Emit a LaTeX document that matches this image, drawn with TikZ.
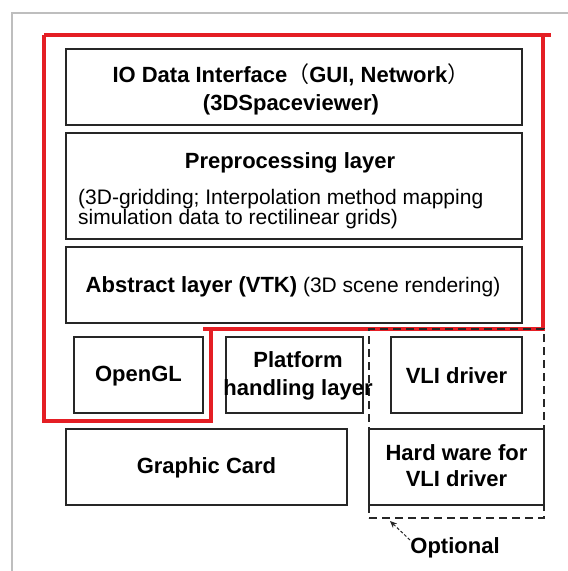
\documentclass[tikz,border=0pt]{standalone}
\usepackage{fontspec}
\setmainfont{Liberation Sans}
\newfontfamily\cjk{Noto Sans CJK SC}
\usetikzlibrary{arrows.meta}
\definecolor{redline}{RGB}{228,30,36}
\definecolor{frame}{RGB}{190,190,190}
\tikzset{
  box/.style={draw=black!85, line width=1.9pt, rectangle, inner sep=0pt},
  ttl/.style={font=\fontsize{22}{28}\selectfont\bfseries, inner sep=0pt, align=center},
  dsc/.style={font=\fontsize{21}{19.5}\selectfont, inner sep=0pt, align=left},
  redpath/.style={draw=redline, line width=3.2pt},
  optbox/.style={draw=black!85, line width=2pt, dash pattern=on 8pt off 5pt, rectangle, inner sep=0pt},
}
\begin{document}
\begin{tikzpicture}[x=1pt,y=-1pt]
\useasboundingbox[fill=white] (0,0) rectangle (568,571);
% grey frame
\draw[frame, line width=1.8pt] (12,571) -- (12,13) -- (568,13);
% red outline
\draw[redpath] (44,35) -- (551,35);
\draw[redpath, line join=miter] (543,35) -- (543,329) -- (203,329);
\draw[redpath, line join=miter] (211,329) -- (211,421) -- (44,421) -- (44,35);
% optional dashed region
\node[optbox, minimum width=175, minimum height=189] (opt) at (456.5,423.5) {};
% boxes
\node[box, minimum width=456, minimum height=76] (io) at (294,87) {};
\node[ttl] (iotext) at (291,89) {IO Data Interface{\cjk\mdseries （}GUI, Network{\cjk\mdseries ）}\\(3DSpaceviewer)};
\node[box, minimum width=456, minimum height=106] (pre) at (294,186) {};
\node[ttl] (pretitle) at (290,163) {Preprocessing layer};
\node[dsc, anchor=west] (predesc) at (78,209) {(3D-gridding; Interpolation method mapping\\simulation data to rectilinear grids)};
\node[box, minimum width=456, minimum height=76] (abs) at (294,285) {};
\node[inner sep=0pt] (abstext) at (293,287) {{\fontsize{22}{26}\selectfont\bfseries Abstract layer (VTK)}{\fontsize{21}{26}\selectfont{} (3D scene rendering)}};
\node[box, minimum width=129, minimum height=76] (ogl) at (138.5,375) {};
\node[ttl] (ogltext) at (138.5,376) {OpenGL};
\node[box, minimum width=137, minimum height=76] (plat) at (294.5,375) {};
\node[ttl] (plattext) at (298,376) {Platform\\handling layer};
\node[box, minimum width=131, minimum height=76] (vli) at (456.5,375) {};
\node[ttl] (vlitext) at (456.5,376) {VLI driver};
\node[box, minimum width=281, minimum height=76] (gc) at (206.5,467) {};
\node[ttl] (gctext) at (206.5,468) {Graphic Card};
\node[box, minimum width=175, minimum height=76] (hw) at (456.5,467) {};
\node[ttl, font=\fontsize{22}{26}\selectfont\bfseries] (hwtext) at (456.5,466) {Hard ware for\\VLI driver};
% optional label and arrow
\node[ttl] (optlabel) at (455,548) {Optional};
\coordinate (arrtail) at (410,540);
\coordinate (arrhead) at (390,521);
\draw[black!85, line width=1pt, dash pattern=on 3pt off 2pt, -{Stealth[length=7pt,width=6pt]}] (arrtail) -- (arrhead);
\end{tikzpicture}
\end{document}
